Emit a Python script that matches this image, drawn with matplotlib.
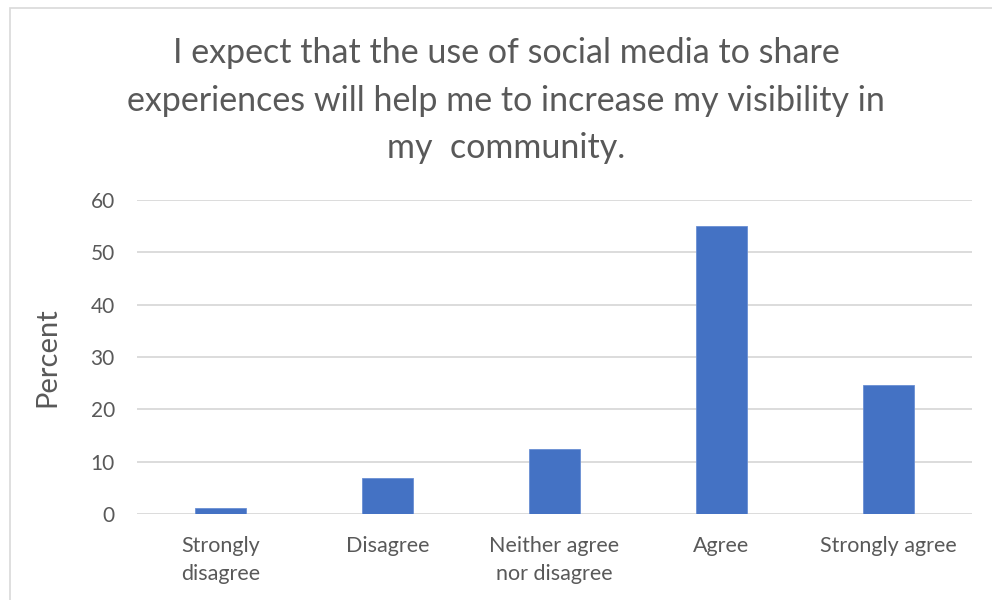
import matplotlib
matplotlib.use("Agg")
import matplotlib.pyplot as plt
from matplotlib.patches import Rectangle

categories = ["Strongly\ndisagree", "Disagree", "Neither agree\nnor disagree", "Agree", "Strongly agree"]
values = [1.15, 6.8, 12.4, 55.1, 24.7]
yticks = [0, 10, 20, 30, 40, 50, 60]
title = "I expect that the use of social media to share\nexperiences will help me to increase my visibility in\nmy  community."

plt.rcParams['font.family'] = ['Lato', 'DejaVu Sans']
gray = "#595959"

fig = plt.figure(figsize=(9.92, 6.0), dpi=100)
fig.patch.set_facecolor("white")
fig.patches.append(Rectangle((10/992, -0.1), 1.2, (600-8)/600 + 0.1, transform=fig.transFigure,
                             fill=False, edgecolor="#d9d9d9", linewidth=1.2))

ax = fig.add_axes([137/992, 86/600, (972-137)/992, 314/600])
x = range(len(categories))
ax.bar(x, values, width=0.31, color="#4472C4", edgecolor="#6a8fd3", linewidth=0.6, zorder=3)
ax.set_xlim(-0.5, len(categories) - 0.5)
ax.set_ylim(0, 60)
ax.set_yticks(yticks)
ax.set_xticks(list(x))
ax.set_xticklabels(categories, color=gray, fontsize=15.5, linespacing=1.5)
ax.tick_params(axis='y', colors=gray, labelsize=15, length=0, pad=16)
ax.tick_params(axis='x', length=0, pad=16)
ax.yaxis.grid(True, color="#d9d9d9", linewidth=1.3, zorder=0)
for s in ax.spines.values():
    s.set_visible(False)
ax.set_ylabel("Percent", color=gray, fontsize=21, labelpad=22)

fig.text(506/992, 1 - 37/600, title, ha="center", va="top", fontsize=24.5, color=gray, linespacing=1.6)

fig.savefig("out.png", dpi=100, facecolor="white")
